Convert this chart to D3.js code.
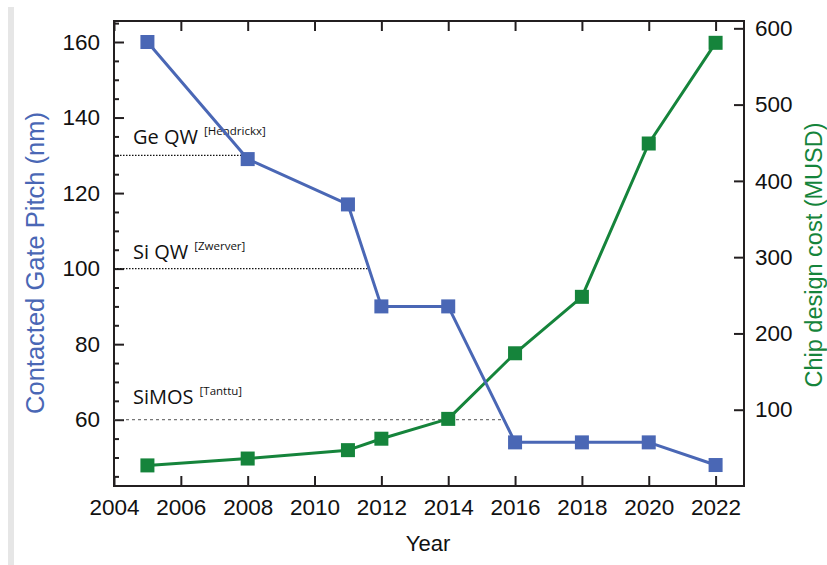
<!DOCTYPE html>
<html>
<head>
<meta charset="utf-8">
<script src="https://cdn.jsdelivr.net/npm/d3@7"></script>
<style>
  html, body { margin: 0; padding: 0; background: #ffffff; }
  svg { display: block; }
</style>
</head>
<body>
<svg id="chart" width="827" height="565"></svg>
<script>
// Years shared by both series
const years = [2005, 2008, 2011, 2012, 2014, 2016, 2018, 2020, 2022];
// Contacted gate pitch (nm)
const gatePitch = [160, 129, 117, 90, 90, 54, 54, 54, 48];
// Chip design cost (MUSD)
const designCost = [27, 36, 47, 62, 88, 174, 248, 449, 581];

// Tick labels
const xTicks = [2004, 2006, 2008, 2010, 2012, 2014, 2016, 2018, 2020, 2022];
const leftTicks = [60, 80, 100, 120, 140, 160];
const leftMinorTicks = [45, 50, 55, 65, 70, 75, 85, 90, 95, 105, 110, 115, 125, 130, 135, 145, 150, 155, 165];
const rightTicks = [100, 200, 300, 400, 500, 600];

// Qubit platform gate pitch references
const refNames = ["Ge QW", "Si QW", "SiMOS"];
const refCites = ["[Hendrickx]", "[Zwerver]", "[Tanttu]"];
const refPitch = [130, 100, 60];

const blue = "#4a67b5";
const green = "#15843b";
const ink = "#231f20";
const axisFont = "'Liberation Sans', Arial, Helvetica, sans-serif";
const noteFont = "'Open Sans', 'Noto Sans', sans-serif";

const svg = d3.select("#chart");
const L = 114, R = 744, T = 21, B = 486;

const x = d3.scaleLinear().domain([2004, 2022.85]).range([L, R]);
const yL = d3.scaleLinear().domain([42.45, 165.56]).range([B, T]);
const yR = d3.scaleLinear().domain([0, 609.6]).range([B, T]);

// page margin strip
svg.append("rect").attr("x", 8).attr("y", 7).attr("width", 6).attr("height", 558).attr("fill", "#e6e6e6");

function styleAxis(g) {
  g.select(".domain").remove();
  g.selectAll(".tick line").attr("stroke", ink).attr("stroke-width", 2);
  g.selectAll(".tick text").attr("fill", "#111").style("font-family", axisFont).style("font-size", "22.5px");
}

// axes
svg.append("g").attr("transform", `translate(0,${B})`)
  .call(d3.axisBottom(x).tickValues(xTicks).tickFormat(d3.format("d")).tickSize(-10).tickPadding(13))
  .call(styleAxis);
svg.append("g").attr("transform", `translate(0,${T})`)
  .call(d3.axisTop(x).tickValues(xTicks).tickFormat("").tickSize(-10))
  .call(styleAxis);
svg.append("g").attr("transform", `translate(${L},0)`)
  .call(d3.axisLeft(yL).tickValues(leftMinorTicks).tickFormat("").tickSize(-5))
  .call(styleAxis);
svg.append("g").attr("transform", `translate(${L},0)`)
  .call(d3.axisLeft(yL).tickValues(leftTicks).tickSize(-10).tickPadding(14))
  .call(styleAxis);
svg.append("g").attr("transform", `translate(${R},0)`)
  .call(d3.axisRight(yR).tickValues(rightTicks).tickSize(-10).tickPadding(11))
  .call(styleAxis);

// frame
svg.append("rect").attr("x", L).attr("y", T).attr("width", R - L).attr("height", B - T)
  .attr("fill", "none").attr("stroke", ink).attr("stroke-width", 2);

// year where the gate pitch curve first falls to a given value
function crossYear(v) {
  for (let i = 0; i < years.length - 1; i++) {
    const a = gatePitch[i], b = gatePitch[i + 1];
    if ((a - v) * (b - v) <= 0 && a !== b) {
      return years[i] + (years[i + 1] - years[i]) * (a - v) / (a - b);
    }
    if (a === v) return years[i];
  }
  return years[years.length - 1];
}

// reference lines and labels
const labelDy = [-11, -10, -16];
refNames.forEach((name, i) => {
  const yv = yL(refPitch[i]);
  svg.append("line")
    .attr("x1", L).attr("x2", x(crossYear(refPitch[i])))
    .attr("y1", yv).attr("y2", yv)
    .attr("stroke", i === 2 ? "#555" : "#111")
    .attr("stroke-width", i === 2 ? 1 : 1.3)
    .attr("stroke-dasharray", i === 2 ? "3,3" : "1.5,1.5");
  const t = svg.append("text")
    .attr("x", 133).attr("y", yv + labelDy[i])
    .style("font-family", noteFont).style("fill", "#111");
  t.append("tspan").style("font-size", "20px").text(name);
  t.append("tspan").attr("dx", 6).attr("dy", -9).style("font-size", "11.5px").text(refCites[i]);
});

// series
function drawSeries(vals, yScale, color) {
  const pts = years.map((yr, i) => [x(yr), yScale(vals[i])]);
  svg.append("path").attr("d", d3.line()(pts))
    .attr("fill", "none").attr("stroke", color).attr("stroke-width", 3).attr("stroke-linejoin", "round");
  svg.append("g").selectAll("rect").data(pts).join("rect")
    .attr("x", d => d[0] - 7).attr("y", d => d[1] - 7)
    .attr("width", 14).attr("height", 14).attr("fill", color);
}
drawSeries(designCost, yR, green);
drawSeries(gatePitch, yL, blue);

// axis titles
svg.append("text").attr("transform", "translate(44,263) rotate(-90)")
  .attr("text-anchor", "middle").style("font-family", axisFont).style("font-size", "25.5px")
  .style("fill", blue).text("Contacted Gate Pitch (nm)");
svg.append("text").attr("transform", "translate(822,255) rotate(-90)")
  .attr("text-anchor", "middle").style("font-family", axisFont).style("font-size", "23.5px")
  .style("fill", green).text("Chip design cost (MUSD)");
svg.append("text").attr("x", 428).attr("y", 551)
  .attr("text-anchor", "middle").style("font-family", axisFont).style("font-size", "22px")
  .style("fill", "#111").text("Year");
</script>
</body>
</html>
